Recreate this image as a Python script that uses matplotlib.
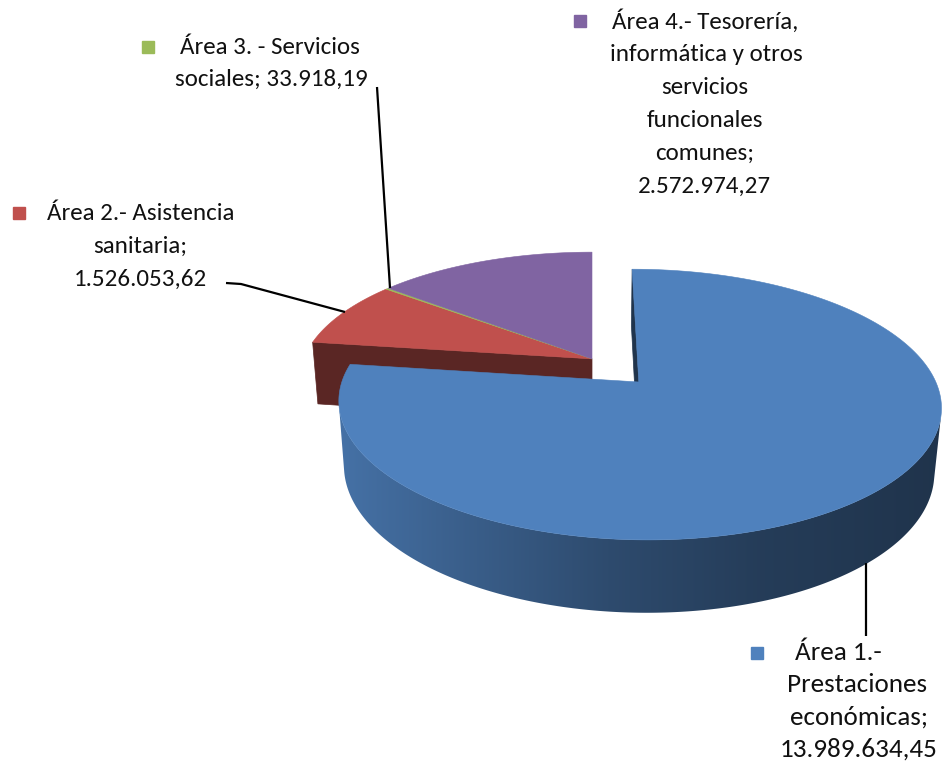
import numpy as np
import matplotlib
matplotlib.use("Agg")
import matplotlib.pyplot as plt
from matplotlib.patches import Polygon
from matplotlib import font_manager
from matplotlib.colors import to_rgb

# ---------------- data ----------------
categories = [
    "Área 1.- Prestaciones económicas",
    "Área 2.- Asistencia sanitaria",
    "Área 3. - Servicios sociales",
    "Área 4.- Tesorería, informática y otros servicios funcionales comunes",
]
values = [13989634.45, 1526053.62, 33918.19, 2572974.27]
value_labels = ["13.989.634,45", "1.526.053,62", "33.918,19", "2.572.974,27"]
label_lines = [
    ["Área 1.-", "Prestaciones", "económicas;", "{v}"],
    ["Área 2.- Asistencia", "sanitaria;", "{v}"],
    ["Área 3. - Servicios", "sociales; {v}"],
    ["Área 4.- Tesorería,", "informática y otros", "servicios", "funcionales", "comunes;", "{v}"],
]
colors = ["#4F81BD", "#C0504D", "#9BBB59", "#8064A2"]
explode = [0.24, 0.0, 0.0, 0.0]

# ---------------- font ----------------
avail = {f.name for f in font_manager.fontManager.ttflist}
FONT = "DejaVu Sans"
for fam in ["Carlito", "Calibri", "Lato", "Open Sans"]:
    if fam in avail:
        FONT = fam
        break

# ---------------- 3D projection (camera) ----------------
PHI = np.radians(26.3)   # elevation
DIST = 5.38              # camera distance (radius units)
K = 297.0                # scale in pixels
H = 0.2456               # thickness
X0, Y0, YR = 592.0, 382.0, -0.181

def proj(X, Y, Z):
    v = (Y - YR) * np.sin(PHI) + Z * np.cos(PHI)
    w = (Y - YR) * np.cos(PHI) - Z * np.sin(PHI)
    s = DIST / (DIST + w)
    return (X0 + K * X * s, Y0 - K * v * s)

CAM = np.array([0.0, YR - DIST * np.cos(PHI), DIST * np.sin(PHI)])

def visible(normal, point):
    return float(np.dot(normal, CAM - np.asarray(point))) > 0

def shade(rgb, f):
    return tuple(min(1, max(0, c * f)) for c in rgb)

grad_pos = [0.0, 0.2, 0.45, 0.7, 1.0]
grad_fac = [0.88, 0.74, 0.58, 0.47, 0.40]

fig = plt.figure(figsize=(9.46, 7.65), dpi=100)
ax = fig.add_axes([0, 0, 1, 1])
ax.set_xlim(0, 946)
ax.set_ylim(765, 0)
ax.axis("off")

total = float(sum(values))
fracs = np.array(values) / total
bounds = 90.0 - 360.0 * np.concatenate([[0.0], np.cumsum(fracs)])
starts, ends = bounds[:-1], bounds[1:]
n_sl = len(values)

offsets = []
for i in range(n_sl):
    mid = np.radians(0.5 * (starts[i] + ends[i]))
    offsets.append((explode[i] * np.cos(mid), explode[i] * np.sin(mid)))

order = sorted(range(n_sl), key=lambda i: (explode[i], i))

for i in order:
    st, en = starts[i], ends[i]
    ox, oy = offsets[i]
    base = to_rgb(colors[i])
    prev_i, next_i = (i - 1) % n_sl, (i + 1) % n_sl
    # radial faces (skip faces shared with a non-separated neighbour)
    for ang, nang, nb in ((st, st + 90.0, prev_i), (en, en - 90.0, next_i)):
        if explode[nb] == explode[i] and explode[i] == 0:
            continue
        a = np.radians(ang)
        na = np.radians(nang)
        n = np.array([np.cos(na), np.sin(na), 0.0])
        P = np.array([ox + 0.5 * np.cos(a), oy + 0.5 * np.sin(a), -H / 2])
        if visible(n, P):
            pts = [proj(ox, oy, 0), proj(ox + np.cos(a), oy + np.sin(a), 0),
                   proj(ox + np.cos(a), oy + np.sin(a), -H), proj(ox, oy, -H)]
            c = shade(base, 0.47 if i != 0 else 0.40)
            ax.add_patch(Polygon(pts, closed=True, fc=c, ec=c, lw=0.5, zorder=2))
    # outer wall (visible part) with horizontal gradient
    th = np.radians(np.linspace(st, en, max(3, int(abs(st - en) * 4) + 1)))
    vis = []
    for t in th:
        n = np.array([np.cos(t), np.sin(t), 0.0])
        P = np.array([ox + np.cos(t), oy + np.sin(t), -H / 2])
        if visible(n, P):
            vis.append(t)
    if len(vis) > 1:
        top = [proj(ox + np.cos(t), oy + np.sin(t), 0) for t in vis]
        bot = [proj(ox + np.cos(t), oy + np.sin(t), -H) for t in vis][::-1]
        wall = Polygon(top + bot, closed=True, fc="none", ec="none", zorder=2)
        ax.add_patch(wall)
        xs = np.array([p[0] for p in top + bot])
        ys = np.array([p[1] for p in top + bot])
        x_lo, x_hi, y_lo, y_hi = xs.min(), xs.max(), ys.min(), ys.max()
        cols = np.linspace(0, 1, 400)
        fac = np.interp(cols, grad_pos, grad_fac)
        img = np.array([[shade(base, f) for f in fac]] * 2)
        im = ax.imshow(img, extent=(x_lo - 1, x_hi + 1, y_hi + 1, y_lo - 1),
                       aspect="auto", interpolation="bilinear", zorder=2)
        im.set_clip_path(wall)
    # top face
    th = np.radians(np.linspace(st, en, max(3, int(abs(st - en) * 2) + 1)))
    pts = [proj(ox, oy, 0)] + [proj(ox + np.cos(t), oy + np.sin(t), 0) for t in th]
    ax.add_patch(Polygon(pts, closed=True, fc=base, ec=base, lw=0.4, zorder=2))

ax.set_xlim(0, 946)
ax.set_ylim(765, 0)

# ---------------- labels ----------------
label_layout = [
    dict(sq=(757, 653), lines_x=[838, 857, 859, 859], y0=653, dy=32.0, fs=19.5),
    dict(sq=(19, 213), lines_x=[141, 140, 140], y0=213, dy=33.0, fs=18),
    dict(sq=(148, 47), lines_x=[270, 271], y0=47, dy=32.0, fs=18),
    dict(sq=(580, 21), lines_x=[705, 706, 705, 705, 705, 704], y0=21, dy=33.0, fs=18),
]
leaders = [
    ([866, 866], [563, 636]),
    ([226, 241, 345], [283, 284, 312]),
    ([377, 390], [87, 288]),
    None,
]

for i in range(n_sl):
    lay = label_layout[i]
    ax.plot([lay["sq"][0]], [lay["sq"][1]], marker="s", ms=8.5, color=colors[i],
            linestyle="none", zorder=4)
    for k, line in enumerate(label_lines[i]):
        ax.text(lay["lines_x"][k], lay["y0"] + k * lay["dy"], line.format(v=value_labels[i]),
                ha="center", va="center", fontsize=lay["fs"], family=FONT, color="#111111",
                zorder=4)
    if leaders[i] is not None:
        xs, ys = leaders[i]
        ax.plot(xs, ys, color="black", lw=1.6, zorder=3, solid_capstyle="butt")

fig.savefig("out.png", dpi=100)
